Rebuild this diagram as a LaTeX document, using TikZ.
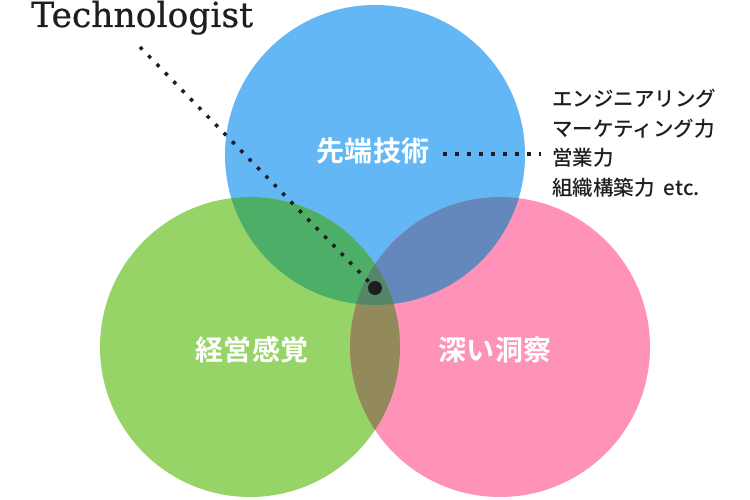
\documentclass[tikz,border=0pt]{standalone}
\usepackage{fontspec}
\usepackage{tikz}
\usetikzlibrary{calc}
\newfontfamily\jpfont{Noto Sans CJK JP Medium}
\newfontfamily\jpbold{Noto Sans CJK JP Bold}
\newfontfamily\slabfont[FakeBold=0.6]{DejaVu Serif}
\definecolor{techblue}{HTML}{64B7F5}
\definecolor{bizgreen}{HTML}{97D468}
\definecolor{insightpink}{HTML}{FF92B8}
\definecolor{bgmix}{HTML}{4DAF67}
\definecolor{bpmix}{HTML}{6488BC}
\definecolor{gpmix}{HTML}{928A5A}
\definecolor{allmix}{HTML}{548668}
\definecolor{inkblack}{HTML}{1E1E22}

\begin{document}
\begin{tikzpicture}[x=1pt, y=-1pt,
  circlelabel/.style={text=white, font=\jpbold\fontsize{28}{28}\selectfont\addfontfeature{LetterSpace=2}},
  dotline/.style={inkblack, line width=3.5pt, dash pattern=on 3.5pt off 8.5pt}]
\useasboundingbox (0,0) rectangle (750,500);
\coordinate (tech) at (375,155);
\coordinate (biz) at (250,347);
\coordinate (insight) at (500,347);
% circles
\fill[techblue] (tech) circle[radius=150pt];
\fill[bizgreen] (biz) circle[radius=150pt];
\fill[insightpink] (insight) circle[radius=150pt];
% overlaps
\begin{scope}
  \clip (tech) circle[radius=150pt];
  \fill[bgmix] (biz) circle[radius=150pt];
  \fill[bpmix] (insight) circle[radius=150pt];
\end{scope}
\begin{scope}
  \clip (biz) circle[radius=150pt];
  \fill[gpmix] (insight) circle[radius=150pt];
  \clip (tech) circle[radius=150pt];
  \fill[allmix] (insight) circle[radius=150pt];
\end{scope}
% labels
\node[circlelabel] (techlabel) at (373,151) {先端技術};
\node[circlelabel] (bizlabel) at (252,350) {経営感覚};
\node[circlelabel] (insightlabel) at (495,350) {深い洞察};
\node[anchor=north west, inner sep=0pt, align=left, text=inkblack,
  font=\jpfont\fontsize{20.5}{29.5}\selectfont] (skills) at (552,89)
  {エンジニアリング\\マーケティング力\\営業力\\組織構築力\ \ etc.};
\node[anchor=base west, inner sep=0pt, text=inkblack,
  font=\slabfont\fontsize{34.5}{34.5}\selectfont] (technologist) at (31,27) {Technologist};
\node[circle, fill=inkblack, minimum size=14pt, inner sep=0pt] (core) at (375,288) {};
\coordinate (tstart) at (140,47);
\draw[dotline] (tstart) -- (core);
\draw[dotline] ($(techlabel.east)+(10,3)$) -- ($(skills.west |- techlabel.east)+(-11,3)$);
\end{tikzpicture}
\end{document}
